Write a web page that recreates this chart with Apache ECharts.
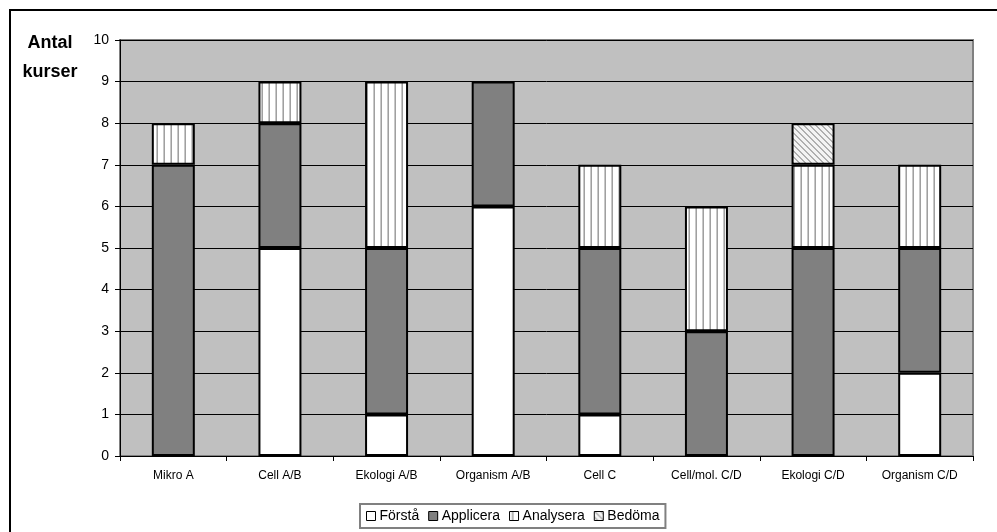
<!DOCTYPE html>
<html>
<head>
<meta charset="utf-8">
<script src="https://cdn.jsdelivr.net/npm/echarts@6/dist/echarts.min.js"></script>
<style>html,body{margin:0;padding:0;background:#fff;}#c{width:997px;height:532px;}</style>
</head>
<body>
<div id="c"></div>
<script>
const categories = ['Mikro A', 'Cell A/B', 'Ekologi A/B', 'Organism A/B', 'Cell C', 'Cell/mol. C/D', 'Ekologi C/D', 'Organism C/D'];
const forsta    = [0, 5, 1, 6, 1, 0, 0, 2];
const applicera = [7, 3, 4, 3, 4, 3, 5, 3];
const analysera = [1, 1, 4, 0, 2, 3, 2, 2];
const bedoma    = [0, 0, 0, 0, 0, 0, 1, 0];
const seriesNames = ['Förstå', 'Applicera', 'Analysera', 'Bedöma'];
const yTicks = [0, 1, 2, 3, 4, 5, 6, 7, 8, 9, 10];

function vertPattern() {
  const c = document.createElement('canvas');
  c.width = 7; c.height = 4;
  const g = c.getContext('2d');
  g.fillStyle = '#ffffff'; g.fillRect(0, 0, 7, 4);
  g.fillStyle = '#c8c8c8'; g.fillRect(2, 0, 1, 4);
  g.fillStyle = '#a0a0a0'; g.fillRect(3, 0, 1, 4);
  return { image: c, repeat: 'repeat' };
}
function diagPattern() {
  const c = document.createElement('canvas');
  c.width = 6; c.height = 6;
  const g = c.getContext('2d');
  g.fillStyle = '#f4f4f4'; g.fillRect(0, 0, 6, 6);
  g.fillStyle = '#b0b0b0';
  for (let i = 0; i < 6; i++) { g.fillRect(i, i, 1, 1); g.fillRect((i + 1) % 6, i, 1, 1); }
  return { image: c, repeat: 'repeat' };
}

const fills = ['#ffffff', '#808080', vertPattern(), diagPattern()];
const dataSets = [forsta, applicera, analysera, bedoma];

const chart = echarts.init(document.getElementById('c'), null, { renderer: 'canvas' });
const font = 'Liberation Sans, Arial, sans-serif';
chart.setOption({
  animation: false,
  backgroundColor: '#fff',
  textStyle: { fontFamily: font },
  grid: { left: 120, right: 24, top: 40, bottom: 76, show: true, backgroundColor: '#c0c0c0', borderColor: '#808080', borderWidth: 2 },
  graphic: [
    { type: 'rect', shape: { x: 10, y: 10, width: 1000, height: 540 }, style: { fill: 'none', stroke: '#000', lineWidth: 2 }, z: -1 },
    { type: 'text', x: 50, y: 29, style: { text: 'Antal\nkurser', font: 'bold 18px ' + font, fill: '#000', lineHeight: 29, textAlign: 'center', align: 'center' } }
  ],
  legend: {
    data: seriesNames,
    left: 360, top: 504,
    itemWidth: 9, itemHeight: 9, itemGap: 9,
    padding: [5, 6, 5, 6],
    borderColor: '#808080', borderWidth: 2,
    textStyle: { fontSize: 14, color: '#000', fontFamily: font, padding: [0, 0, 0, -1] },
    icon: 'rect',
    itemStyle: { borderColor: '#000', borderWidth: 1 }
  },
  xAxis: {
    type: 'category', data: categories,
    axisLine: { lineStyle: { color: '#000', width: 1 } },
    axisTick: { show: true, length: 5, lineStyle: { color: '#000' } },
    axisLabel: { fontSize: 12, color: '#000', margin: 14, interval: 0 }
  },
  yAxis: {
    type: 'value', min: yTicks[0], max: yTicks[yTicks.length - 1], interval: 1,
    axisLine: { show: true, lineStyle: { color: '#000', width: 1 } },
    axisTick: { show: true, length: 5, lineStyle: { color: '#000' } },
    axisLabel: { fontSize: 14, color: '#000', margin: 11 },
    splitLine: { lineStyle: { color: '#000', width: 1 } }
  },
  series: seriesNames.map((n, i) => ({
    name: n, type: 'bar', stack: 'all', barWidth: 43,
    data: dataSets[i].map(v => v === 0 ? null : v),
    itemStyle: { color: fills[i], borderColor: '#000', borderWidth: 2 }
  }))
});
</script>
</body>
</html>
